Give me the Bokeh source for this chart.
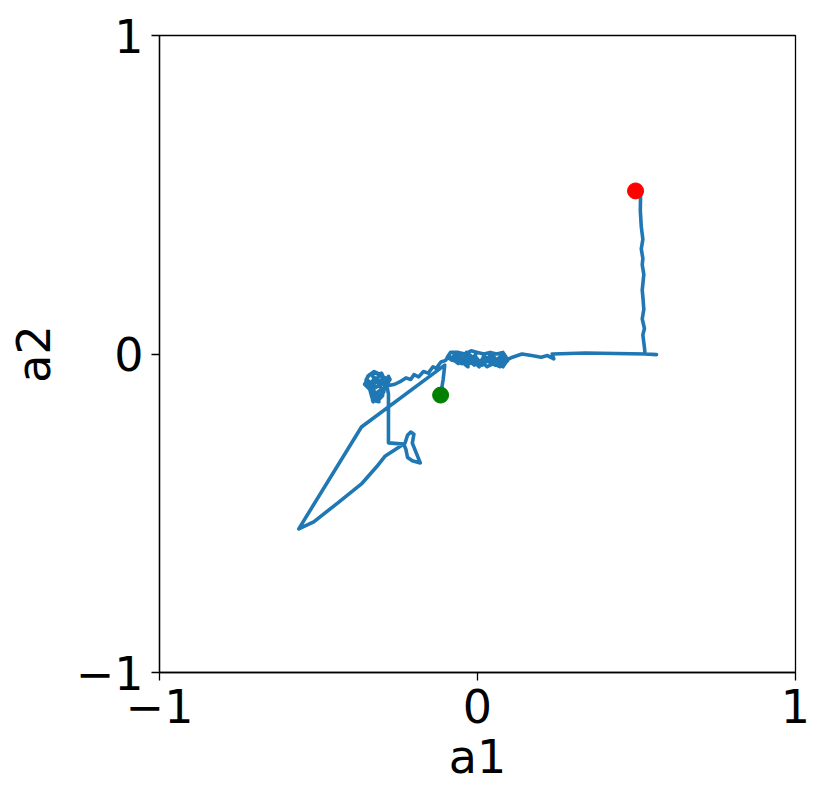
from bokeh.plotting import figure
from bokeh.models import Range1d, FixedTicker
from bokeh.embed import file_html
from bokeh.resources import INLINE

# trajectory (a1, a2)
a1 = [-0.116, -0.108, -0.103, -0.365, -0.562, -0.515, -0.44, -0.365, -0.318, -0.29, -0.228,
      -0.22, -0.21, -0.2, -0.205, -0.18, -0.205, -0.22, -0.225, -0.232,
      -0.28, -0.28,
      -0.285, -0.3, -0.32, -0.34, -0.35, -0.335, -0.355, -0.34, -0.325, -0.33, -0.31, -0.315,
      -0.3, -0.33, -0.31, -0.29, -0.3, -0.32, -0.345, -0.335, -0.315, -0.295, -0.29, -0.28,
      -0.275, -0.285, -0.305, -0.325, -0.345, -0.352, -0.338, -0.322, -0.335, -0.318, -0.328,
      -0.342, -0.322, -0.308, -0.298, -0.312, -0.33, -0.318, -0.302, -0.29, -0.283,
      -0.26, -0.24, -0.225, -0.21, -0.2, -0.185, -0.17, -0.155, -0.14, -0.13, -0.115, -0.1,
      -0.09, -0.075, -0.06, -0.045, -0.03, -0.02, -0.005, 0.01, 0.02, 0.035, 0.05, 0.06, 0.075,
      0.085, 0.07, 0.05, 0.03, 0.01, -0.01, -0.03, -0.05, -0.065, -0.08, -0.095, -0.085, -0.06,
      -0.04, -0.02, 0.0, 0.02, 0.04, 0.06, 0.08, 0.09, 0.095, 0.08, 0.07, 0.085,
      0.065, 0.045, 0.055, 0.035, 0.015, 0.025, 0.005, -0.015, -0.005, -0.025, -0.04, -0.03,
      -0.055, -0.07, -0.06, -0.08, -0.07, -0.05, -0.035, -0.015, 0.0, 0.015, 0.03, 0.045,
      0.06, 0.075, 0.09, 0.08, 0.065,
      0.11, 0.14, 0.17, 0.2, 0.22, 0.24, 0.235, 0.34, 0.53, 0.563, 0.527,
      0.525, 0.52, 0.525, 0.518, 0.523, 0.52, 0.518, 0.523, 0.518, 0.52, 0.515, 0.52, 0.515,
      0.512, 0.513, 0.497]
a2 = [-0.129, -0.08, -0.035, -0.229, -0.549, -0.527, -0.468, -0.408, -0.355, -0.32, -0.28,
      -0.255, -0.245, -0.252, -0.28, -0.342, -0.335, -0.325, -0.3, -0.283,
      -0.279, -0.125,
      -0.1, -0.07, -0.06, -0.065, -0.08, -0.09, -0.095, -0.11, -0.13, -0.145, -0.15, -0.12,
      -0.11, -0.07, -0.085, -0.075, -0.095, -0.105, -0.085, -0.115, -0.135, -0.12, -0.09, -0.07,
      -0.08, -0.095, -0.065, -0.055, -0.07, -0.09, -0.1, -0.085, -0.12, -0.14, -0.15,
      -0.1, -0.075, -0.09, -0.13, -0.145, -0.105, -0.08, -0.06, -0.085, -0.1,
      -0.095, -0.085, -0.075, -0.08, -0.065, -0.072, -0.055, -0.06, -0.04, -0.045, -0.025, -0.02,
      -0.005, -0.02, 0.0, -0.015, -0.005, -0.025, -0.01, -0.03, -0.005, -0.025, -0.01, -0.03, -0.015,
      -0.03, -0.04, -0.03, -0.04, -0.02, -0.035, -0.02, -0.03, -0.01, -0.02, -0.01, 0.005, 0.005,
      0.0, 0.01, 0.005, 0.0, 0.005, 0.0, 0.005, -0.01, -0.02, -0.035, -0.02, -0.015,
      -0.025, -0.015, -0.035, -0.02, -0.03, -0.01, -0.04, -0.02, 0.0, -0.03, -0.01, -0.04,
      -0.02, -0.005, -0.03, -0.015, 0.002, -0.02, 0.005, -0.01, -0.025, -0.035, -0.015, 0.0,
      -0.02, -0.005, -0.025, -0.04, -0.03,
      -0.01, -0.0, -0.005, -0.01, -0.005, -0.015, 0.0, 0.003, 0.0, -0.002, 0.0,
      0.02, 0.06, 0.08, 0.11, 0.14, 0.18, 0.2, 0.25, 0.28, 0.3, 0.33, 0.36, 0.4,
      0.45, 0.51, 0.512]

start_pt = ([a1[0]], [a2[0]])
end_pt = ([a1[-1]], [a2[-1]])
ticks = [-1, 0, 1]
tick_labels = {-1: "\u22121", 0: "0", 1: "1"}

p = figure(frame_width=636, frame_height=637, output_backend="svg", toolbar_location=None,
           x_range=Range1d(-1, 1), y_range=Range1d(-1, 1),
           min_border_left=159, min_border_right=20, min_border_top=35, min_border_bottom=121)
p.background_fill_color = "white"
p.border_fill_color = "white"
p.outline_line_color = "black"
p.outline_line_width = 1.3
p.xgrid.visible = False
p.ygrid.visible = False

p.line(a1, a2, line_color="#1f77b4", line_width=3.6, line_join="round")
p.scatter(start_pt[0], start_pt[1], size=16, color="green")
p.scatter(end_pt[0], end_pt[1], size=16, color="red")

for ax in (p.xaxis[0], p.yaxis[0]):
    ax.ticker = FixedTicker(ticks=ticks)
    ax.major_label_overrides = tick_labels
    ax.minor_tick_line_color = None
    ax.major_tick_in = 0
    ax.major_tick_out = 8
    ax.major_tick_line_width = 1.3
    ax.axis_line_width = 1.3
    ax.major_label_text_font = "DejaVu Sans"
    ax.major_label_text_font_size = "46px"
    ax.major_label_text_color = "black"
    ax.axis_label_text_font = "DejaVu Sans"
    ax.axis_label_text_font_size = "46px"
    ax.axis_label_text_font_style = "normal"
    ax.axis_label_text_color = "black"
    ax.major_label_standoff = 8

p.xaxis.axis_label = "a1"
p.yaxis.axis_label = "a2"
p.xaxis.axis_label_standoff = 4
p.yaxis.axis_label_standoff = 12
p.yaxis.major_label_orientation = "horizontal"

open("out.html", "w").write(file_html(p, INLINE))
